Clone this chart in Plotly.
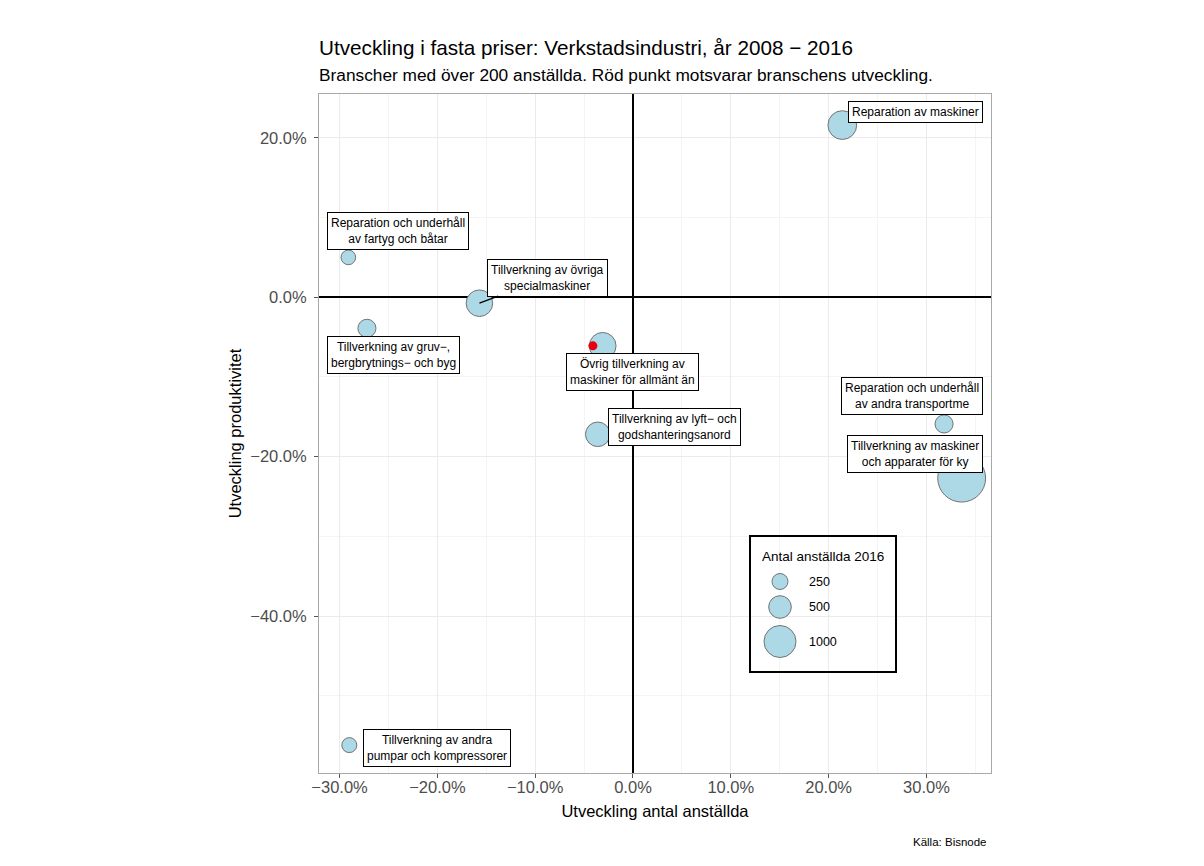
import plotly.graph_objects as go

# ---------------- data ----------------
branscher = [
    "Reparation av maskiner",
    "Reparation och underhåll<br>av fartyg och båtar",
    "Tillverkning av övriga<br>specialmaskiner",
    "Tillverkning av gruv−,<br>bergbrytnings− och byg",
    "Övrig tillverkning av<br>maskiner för allmänt än",
    "Tillverkning av lyft− och<br>godshanteringsanord",
    "Reparation och underhåll<br>av andra transportme",
    "Tillverkning av maskiner<br>och apparater för ky",
    "Tillverkning av andra<br>pumpar och kompressorer",
]
utv_anstallda = [0.214, -0.291, -0.157, -0.272, -0.031, -0.036, 0.318, 0.336, -0.290]
utv_produktivitet = [0.216, 0.050, -0.0075, -0.039, -0.061, -0.172, -0.159, -0.227, -0.562]
anstallda_2016 = [808, 210, 690, 320, 700, 590, 320, 2240, 220]

bransch_x = [-0.041]
bransch_y = [-0.061]

legend_values = [250, 500, 1000]
legend_title = "Antal anställda 2016"

x_ticks = [-0.3, -0.2, -0.1, 0.0, 0.1, 0.2, 0.3]
y_ticks = [-0.4, -0.2, 0.0, 0.2]

title = "Utveckling i fasta priser: Verkstadsindustri, år 2008 − 2016"
subtitle = "Branscher med över 200 anställda. Röd punkt motsvarar branschens utveckling."
caption = "Källa: Bisnode"
x_title = "Utveckling antal anställda"
y_title = "Utveckling produktivitet"

# ---------------- layout constants ----------------
OFF = 8                      # page body margin
W, H = 1204 - 2 * OFF, 866 - 2 * OFF
PL, PR, PT, PB = 319, 991, 94, 773   # plot panel in page pixels
L, R, T, B = PL - OFF, (W + OFF) - PR, PT - OFF, (H + OFF) - PB
FONT = "Liberation Sans, Arial, Helvetica, sans-serif"
SIZEREF = 1.954
FILL = "#ADD8E6"
EDGE = "#737373"


def paper_x(px):
    return (px - PL) / (PR - PL)


def paper_y(py):
    return (PB - py) / (PB - PT)


# label offsets (pixels, box centre relative to point)
label_offsets = [(73.5, 13.5), (49.5, 26), (68.5, 25.5), (26.5, -27), (29.5, -26),
                 (76.5, 7), (-32, 28), (-47, 24.5), (87.5, -2.5)]
arrow_label = 2

fig = go.Figure()

fig.add_trace(go.Scatter(
    x=utv_anstallda, y=utv_produktivitet, mode="markers",
    marker=dict(size=anstallda_2016, sizemode="area", sizeref=SIZEREF,
                color=FILL, opacity=1, line=dict(color=EDGE, width=1)),
    hoverinfo="skip", showlegend=False,
))
fig.add_trace(go.Scatter(
    x=bransch_x, y=bransch_y, mode="markers",
    marker=dict(size=9, color="#E8000D", opacity=1, line=dict(width=0)),
    hoverinfo="skip", showlegend=False,
))

# ---- manual size legend on pixel overlay axes ----
leg_box = dict(x0=750, x1=896, y0=536, y1=672)
leg_cx = 780
leg_rows = [581.5, 607, 641.5]
fig.add_trace(go.Scatter(
    x=[leg_cx] * len(legend_values), y=leg_rows, mode="markers",
    marker=dict(size=legend_values, sizemode="area", sizeref=SIZEREF,
                color=FILL, opacity=1, line=dict(color=EDGE, width=1)),
    xaxis="x2", yaxis="y2", hoverinfo="skip", showlegend=False,
))

annotations = []
for i, (txt, xv, yv) in enumerate(zip(branscher, utv_anstallda, utv_produktivitet)):
    dx, dy = label_offsets[i]
    common = dict(text=txt, x=xv, y=yv, xref="x", yref="y",
                  font=dict(family=FONT, size=12, color="black"),
                  bgcolor="white", bordercolor="black", borderwidth=1, borderpad=3,
                  align="center")
    if i == arrow_label:
        annotations.append(dict(**common, showarrow=True, ax=dx, ay=-dy,
                                arrowhead=0, arrowwidth=1.3, arrowcolor="black", standoff=0))
    else:
        annotations.append(dict(**common, showarrow=False, xshift=dx, yshift=dy))

for v, yy in zip(legend_values, leg_rows):
    annotations.append(dict(text=str(v), x=807, y=yy, xref="x2", yref="y2",
                            xanchor="left", yanchor="middle", showarrow=False,
                            font=dict(family=FONT, size=12.5, color="black")))
annotations.append(dict(text=legend_title, x=(leg_box["x0"] + leg_box["x1"]) / 2, y=556,
                        xref="x2", yref="y2", xanchor="center", yanchor="middle",
                        showarrow=False, font=dict(family=FONT, size=13.5, color="black")))

annotations.append(dict(text=title, x=paper_x(317), y=paper_y(47), xref="paper", yref="paper",
                        xanchor="left", yanchor="middle", showarrow=False,
                        font=dict(family=FONT, size=20.7, color="black")))
annotations.append(dict(text=subtitle, x=paper_x(317), y=paper_y(75), xref="paper", yref="paper",
                        xanchor="left", yanchor="middle", showarrow=False,
                        font=dict(family=FONT, size=17.3, color="black")))
annotations.append(dict(text=caption, x=paper_x(989), y=paper_y(842), xref="paper", yref="paper",
                        xanchor="right", yanchor="middle", showarrow=False,
                        font=dict(family=FONT, size=11.5, color="black")))

shapes = [dict(type="rect", xref="x2", yref="y2", layer="above",
               x0=leg_box["x0"], x1=leg_box["x1"], y0=leg_box["y0"], y1=leg_box["y1"],
               line=dict(color="black", width=2), fillcolor="rgba(0,0,0,0)")]

axis_common = dict(
    showgrid=True, gridcolor="#EBEBEB", gridwidth=1.1,
    minor=dict(showgrid=True, gridcolor="#F4F4F4", gridwidth=0.6),
    showline=True, mirror=True, linecolor="#A8A8A8", linewidth=1,
    ticks="outside", ticklen=4, tickcolor="#555555", tickwidth=1,
    tickfont=dict(family=FONT, size=16.5, color="#4D4D4D"),
    tickformat=".1%", zeroline=True, zerolinecolor="black", zerolinewidth=1.6,
    fixedrange=True,
)

fig.update_layout(
    width=W, height=H,
    margin=dict(l=L, r=R, t=T, b=B, pad=0),
    paper_bgcolor="white", plot_bgcolor="white",
    font=dict(family=FONT),
    xaxis=dict(**axis_common, range=[-0.321, 0.366], tickvals=x_ticks,
               minor_dtick=0.05, minor_tick0=0, ticklabelstandoff=-5,
               title=dict(text=x_title, font=dict(family=FONT, size=16.5, color="black"), standoff=10)),
    yaxis=dict(**axis_common, range=[-0.597, 0.255], tickvals=y_ticks,
               minor_dtick=0.1, minor_tick0=0, ticklabelstandoff=4,
               title=dict(text=y_title, font=dict(family=FONT, size=16.5, color="black"), standoff=4)),
    xaxis2=dict(overlaying="x", range=[PL, PR], visible=False, fixedrange=True),
    yaxis2=dict(overlaying="y", range=[PB, PT], visible=False, fixedrange=True),
    annotations=annotations, shapes=shapes,
    showlegend=False,
)

fig.write_html("out.html")
